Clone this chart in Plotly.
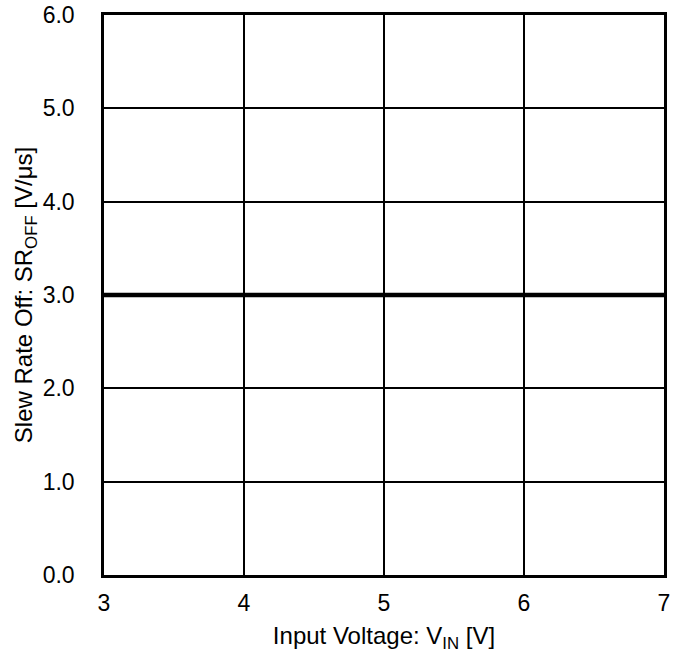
import plotly.graph_objects as go

vin = [3.0, 4.0, 5.0, 6.0, 7.0]
sr_off = [3.0, 3.0, 3.0, 3.0, 3.0]
x_ticks = [3, 4, 5, 6, 7]
y_ticks = [0.0, 1.0, 2.0, 3.0, 4.0, 5.0, 6.0]
y_labels = ["0.0", "1.0", "2.0", "3.0", "4.0", "5.0", "6.0"]

fig = go.Figure()
fig.add_trace(go.Scatter(x=vin, y=sr_off, mode="lines",
                         line=dict(color="black", width=4.5), showlegend=False))

font = dict(family="Liberation Sans, Arial, sans-serif", size=23, color="black")
tfont = dict(family="Liberation Sans, Arial, sans-serif", size=24, color="black")
fig.update_layout(
    template="none",
    width=680, height=660,
    margin=dict(l=104, r=16, t=15, b=85),
    paper_bgcolor="white", plot_bgcolor="white",
    font=font,
    xaxis=dict(range=[3, 7], tickvals=x_ticks, ticktext=[str(v) for v in x_ticks],
               showgrid=True, gridcolor="black", gridwidth=1.5,
               showline=True, linecolor="black", linewidth=2.5, mirror=True,
               ticks="", ticklabelstandoff=6, zeroline=False, automargin=False,
               tickfont=font,
               title=dict(text="Input Voltage: V<sub>IN</sub> [V]", font=tfont, standoff=12)),
    yaxis=dict(range=[0, 6], tickvals=y_ticks, ticktext=y_labels,
               showgrid=True, gridcolor="black", gridwidth=1.5,
               showline=True, linecolor="black", linewidth=2.5, mirror=True,
               ticks="", ticklabelstandoff=22, zeroline=False, automargin=False,
               tickfont=font,
               title=dict(text="Slew Rate Off: SR<sub>OFF</sub> [V/μs]", font=tfont, standoff=4)),
)
fig.write_html("out.html", config={"displayModeBar": False},
               post_script="document.body.style.margin='0';")
